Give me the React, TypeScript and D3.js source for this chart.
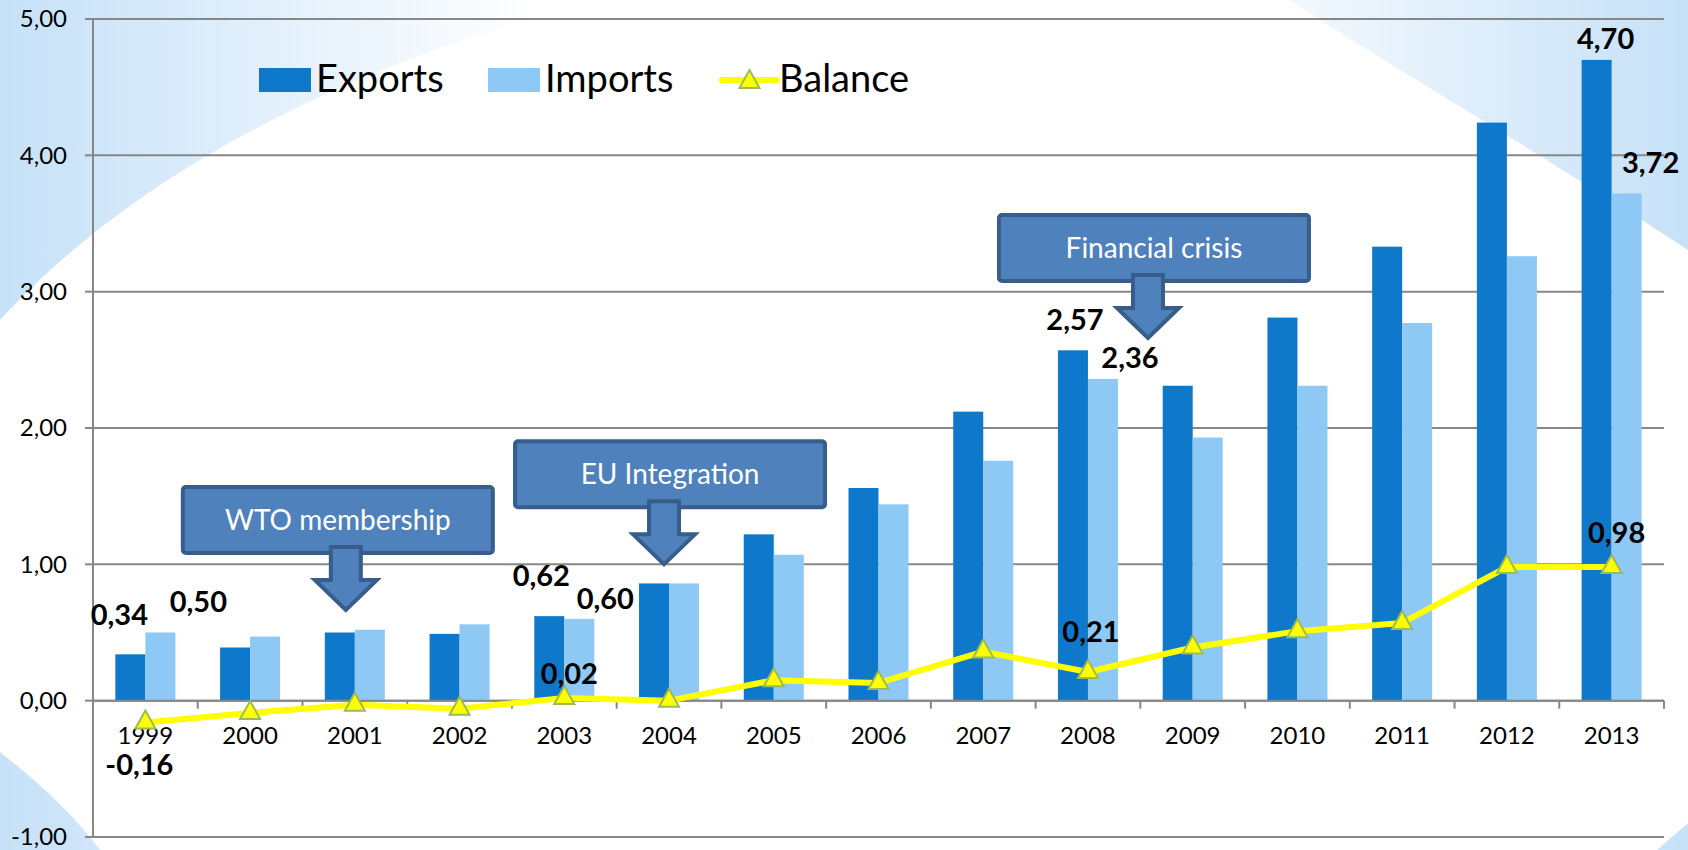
import { scaleBand, scaleLinear, line } from "d3";

const years = ["1999", "2000", "2001", "2002", "2003", "2004", "2005", "2006", "2007", "2008", "2009", "2010", "2011", "2012", "2013"];
const exportsValues = [0.34, 0.39, 0.5, 0.49, 0.62, 0.86, 1.22, 1.56, 2.12, 2.57, 2.31, 2.81, 3.33, 4.24, 4.7];
const importsValues = [0.5, 0.47, 0.52, 0.56, 0.6, 0.86, 1.07, 1.44, 1.76, 2.36, 1.93, 2.31, 2.77, 3.26, 3.72];
const balanceValues = [-0.16, -0.09, -0.03, -0.06, 0.02, 0.0, 0.15, 0.13, 0.36, 0.21, 0.39, 0.51, 0.57, 0.98, 0.98];
const yTicks = [-1, 0, 1, 2, 3, 4, 5];
const seriesNames = ["Exports", "Imports", "Balance"];

// labels that the original chart shows, with hand-placed offsets
const valueLabels = [
  { series: "exports", year: "1999", text: "0,34", dx: -11, dy: -29 },
  { series: "imports", year: "1999", text: "0,50", dx: 38, dy: -21 },
  { series: "exports", year: "2003", text: "0,62", dx: -8, dy: -30 },
  { series: "imports", year: "2003", text: "0,60", dx: 26, dy: -10 },
  { series: "exports", year: "2008", text: "2,57", dx: 2, dy: -20 },
  { series: "imports", year: "2008", text: "2,36", dx: 27, dy: -11 },
  { series: "exports", year: "2013", text: "4,70", dx: 9, dy: -11 },
  { series: "imports", year: "2013", text: "3,72", dx: 24, dy: -21 },
  { series: "balance", year: "1999", text: "-0,16", dx: -6, dy: 53 },
  { series: "balance", year: "2003", text: "0,02", dx: 5, dy: -14 },
  { series: "balance", year: "2008", text: "0,21", dx: 3, dy: -30 },
  { series: "balance", year: "2013", text: "0,98", dx: 5, dy: -24 },
];

const annotations = [
  { text: "WTO membership", year: "2001", dx: -9, tip: 0.665, boxDx: -8 },
  { text: "EU Integration", year: "2004", dx: -5, tip: 1.0, boxDx: 6 },
  { text: "Financial crisis", year: "2008", dx: 60, tip: 2.66, boxDx: 6 },
];

const W = 1688;
const H = 850;
const FONT = "Lato, 'Open Sans', sans-serif";
const EXP = "#0e79ca";
const IMP = "#8ec8f4";
const BAL = "#ffff00";
const MARK_STROKE = "#9bbb59";
const GRID = "#878787";
const BOX_FILL = "#4f81bd";
const BOX_STROKE = "#385d8a";

const triangle = (cx: number, cy: number, w = 20, h = 18) =>
  `M${cx},${cy - (h * 2) / 3}L${cx + w / 2},${cy + h / 3}L${cx - w / 2},${cy + h / 3}Z`;

const DownArrow = ({ x, tipY }: { x: number; tipY: number }) => {
  const shaftW = 15;
  const headW = 31;
  const headH = 30;
  const shaftH = 33;
  const top = tipY - headH - shaftH;
  const d = `M${x - shaftW},${top}L${x + shaftW},${top}L${x + shaftW},${tipY - headH}L${x + headW},${tipY - headH}L${x},${tipY}L${x - headW},${tipY - headH}L${x - shaftW},${tipY - headH}Z`;
  return <path d={d} fill={BOX_FILL} stroke={BOX_STROKE} strokeWidth={4} strokeLinejoin="miter" />;
};

const App = () => {
  const x = scaleBand().domain(years).range([93, 1664]).paddingInner(0.427).paddingOuter(0.2135);
  const step = x.step();
  const xg = scaleBand().domain(["exports", "imports"]).range([0, x.bandwidth()]);
  const y = scaleLinear().domain([-1, 5]).range([837, 19]);
  const cx = (yr: string) => x(yr)! + x.bandwidth() / 2;

  const balanceLine = line<number>()
    .x((_, i) => cx(years[i]))
    .y((d) => y(d));

  const valueOf = (series: string, yr: string) => {
    const i = years.indexOf(yr);
    if (series === "exports") return exportsValues[i];
    if (series === "imports") return importsValues[i];
    return balanceValues[i];
  };
  const labelX = (series: string, yr: string) =>
    series === "balance" ? cx(yr) : x(yr)! + xg(series)! + xg.bandwidth() / 2;

  const fmt = (v: number) => v.toFixed(2).replace(".", ",");
  const [x0, x1] = x.range();

  return (
    <svg width={W} height={H} style={{ position: "absolute", left: 0, top: 0 }} fontFamily={FONT}>
      <defs>
        <linearGradient id="bg" x1="0" x2="1" y1="0" y2="0">
          <stop offset="0" stopColor="#c6e1f8" />
          <stop offset="0.32" stopColor="#ffffff" />
          <stop offset="0.7" stopColor="#ffffff" />
          <stop offset="1" stopColor="#c6e1f8" />
        </linearGradient>
      </defs>
      <rect width={W} height={H} fill="url(#bg)" />
      <path
        d="M0,320 C110,200 300,75 600,0 L1289,0 C1400,72 1560,165 1688,250 L1688,823 L1657,850 L100,850 C70,810 35,780 0,752 Z"
        fill="#ffffff"
      />

      {/* grid + y axis */}
      {yTicks.map((t) => (
        <g key={t}>
          <line x1={x0} x2={x1} y1={y(t)} y2={y(t)} stroke={GRID} strokeWidth={2} />
          <line x1={x0 - 8} x2={x0} y1={y(t)} y2={y(t)} stroke={GRID} strokeWidth={2} />
          <text x={67} y={y(t)} dy="0.35em" textAnchor="end" fontSize={24} fill="#000">
            {fmt(t)}
          </text>
        </g>
      ))}
      <line x1={x0} x2={x0} y1={y(5)} y2={y(-1)} stroke={GRID} strokeWidth={2} />

      {/* bars */}
      {years.map((yr, i) => (
        <g key={yr}>
          <rect x={x(yr)! + xg("exports")!} y={y(exportsValues[i])} width={xg.bandwidth()} height={y(0) - y(exportsValues[i])} fill={EXP} />
          <rect x={x(yr)! + xg("imports")!} y={y(importsValues[i])} width={xg.bandwidth()} height={y(0) - y(importsValues[i])} fill={IMP} />
        </g>
      ))}

      {/* x axis */}
      <line x1={x0} x2={x1} y1={y(0)} y2={y(0)} stroke={GRID} strokeWidth={2} />
      {years.concat([""]).map((yr, i) => (
        <line key={`t${i}`} x1={x0 + i * step} x2={x0 + i * step} y1={y(0)} y2={y(0) + 8} stroke={GRID} strokeWidth={2} />
      ))}
      {years.map((yr) => (
        <text key={`l${yr}`} x={cx(yr)} y={744} textAnchor="middle" fontSize={24} fill="#000">
          {yr}
        </text>
      ))}

      {/* balance */}
      <path d={balanceLine(balanceValues)!} fill="none" stroke={BAL} strokeWidth={6} strokeLinejoin="round" />
      {balanceValues.map((v, i) => (
        <path key={`m${i}`} d={triangle(cx(years[i]), y(v))} fill={BAL} stroke={MARK_STROKE} strokeWidth={2} />
      ))}

      {/* value labels */}
      {valueLabels.map((l) => (
        <text
          key={`${l.series}${l.year}`}
          x={labelX(l.series, l.year) + l.dx}
          y={y(valueOf(l.series, l.year)) + l.dy}
          textAnchor="middle"
          fontSize={29}
          fontWeight="bold"
          fill="#000"
        >
          {l.text}
        </text>
      ))}

      {/* annotations */}
      {annotations.map((a) => {
        const ax = cx(a.year) + a.dx;
        const tipY = y(a.tip);
        const boxBottom = tipY - 57;
        const bx = ax + a.boxDx;
        return (
          <g key={a.text}>
            <rect x={bx - 155} y={boxBottom - 66} width={310} height={66} rx={3} fill={BOX_FILL} stroke={BOX_STROKE} strokeWidth={4} />
            <text x={bx} y={boxBottom - 33} dy="0.35em" textAnchor="middle" fontSize={28} fill="#fff">
              {a.text}
            </text>
            <DownArrow x={ax} tipY={tipY} />
          </g>
        );
      })}

      {/* legend */}
      <g fontSize={38} fill="#000">
        <rect x={259} y={68} width={52} height={24} fill={EXP} />
        <text x={316} y={92}>{seriesNames[0]}</text>
        <rect x={488} y={68} width={52} height={24} fill={IMP} />
        <text x={545} y={92}>{seriesNames[1]}</text>
        <line x1={722} x2={777} y1={80} y2={80} stroke={BAL} strokeWidth={6} strokeLinecap="round" />
        <path d={triangle(749.5, 82)} fill={BAL} stroke={MARK_STROKE} strokeWidth={2} />
        <text x={779} y={92}>{seriesNames[2]}</text>
      </g>
    </svg>
  );
};

export default App;
